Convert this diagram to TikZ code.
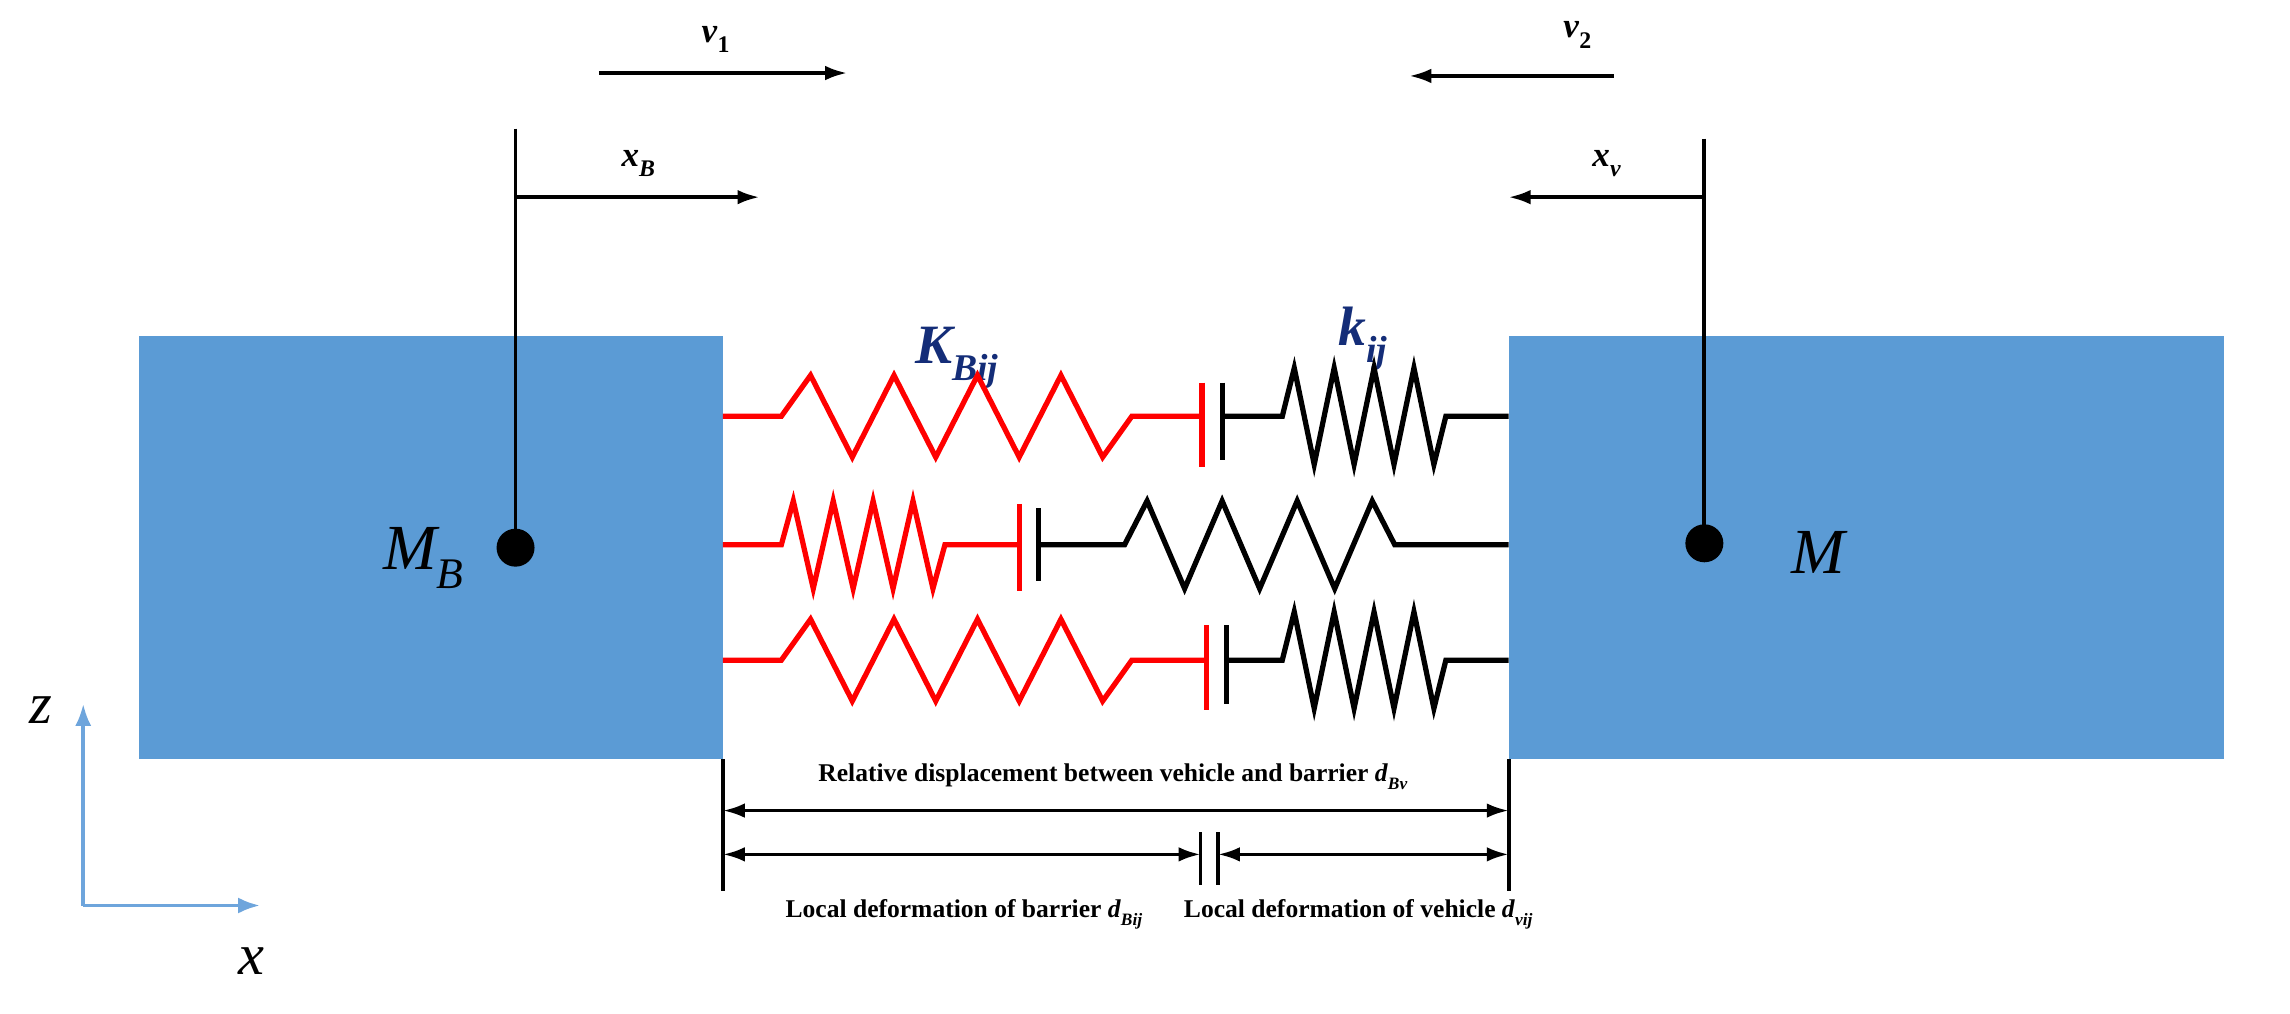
\documentclass[tikz,border=0pt]{standalone}
\usepackage{graphicx}
\usepackage{fontspec}
\setmainfont{Liberation Serif}
\usetikzlibrary{arrows.meta}
\definecolor{boxblue}{RGB}{91,155,213}
\definecolor{lblue}{RGB}{110,165,220}
\definecolor{dblue}{RGB}{20,45,120}
\newcommand\mysub[1]{\raisebox{-0.3em}{\scalebox{0.68}{#1}}}
\begin{document}
\begin{tikzpicture}[x=1pt,y=-1pt,
  ln/.style={line width=2.6pt,black},
  arr/.style={line width=2.4pt,-{Latex[length=15pt,width=10pt]}},
  darr/.style={line width=2.4pt,{Latex[length=15pt,width=10pt]}-{Latex[length=15pt,width=10pt]}},
  rs/.style={line width=3.6pt,red,line join=miter},
  bs/.style={line width=3.6pt,black,line join=miter},
  lab/.style={font=\bfseries\fontsize{17.5}{20}\selectfont},
  big/.style={font=\itshape\fontsize{44}{48}\selectfont}]
\useasboundingbox (0,0) rectangle (1568,694);
% boxes
\fill[boxblue] (95,230) rectangle (495,520);
\fill[boxblue] (1033,230) rectangle (1523,520);
\node[big] (MB) at (290,382) {M\mysub{B}};
\node[big] (M) at (1245,378) {M};
% reference lines
\coordinate (lt) at (353,88); \coordinate (la) at (353,135); \coordinate (le) at (520,135);
\draw[ln] (lt) -- (353,375);
\fill (353,375) circle (13);
\draw[arr] (la) -- (le);
\node[font=\bfseries\itshape\fontsize{24}{26}\selectfont] (xB) at (437,112) {x\mysub{B}};
\coordinate (v1a) at (410,50); \coordinate (v1b) at (580,50);
\draw[arr] (v1a) -- (v1b);
\node[font=\bfseries\fontsize{24}{26}\selectfont] (v1) at (490,27) {\textit{v}\mysub{1}};
\coordinate (rt) at (1167,95); \coordinate (ra) at (1167,135); \coordinate (re) at (1033,135);
\draw[ln] (rt) -- (1167,372);
\fill (1167,372) circle (13);
\draw[arr] (ra) -- (re);
\node[font=\bfseries\itshape\fontsize{24}{26}\selectfont] (xv) at (1100,112) {x\mysub{v}};
\coordinate (v2a) at (1105,52); \coordinate (v2b) at (965,52);
\draw[arr] (v2a) -- (v2b);
\node[font=\bfseries\fontsize{24}{26}\selectfont] (v2) at (1080,24) {\textit{v}\mysub{2}};
% spring labels
\node[dblue,font=\bfseries\itshape\fontsize{38}{40}\selectfont] (KB) at (655,245) {K\mysub{Bij}};
\node[dblue,font=\bfseries\itshape\fontsize{38}{40}\selectfont] (kij) at (933,232) {k\mysub{ij}};
% row 1
\draw[rs] (495,285) -- (535,285) \foreach \i in {1,...,8}{ -- ({535+(\i-0.3)*240/8.4},{285-28*(1-2*mod(\i+1,2))}) } -- (775,285) -- (823,285);
\draw[rs] (823,262) -- (823,320);
\draw[ln,line width=3.6pt] (837,262) -- (837,315);
\draw[bs] (837,285) -- (878,285) \foreach \i in {1,...,8}{ -- ({878+(\i-0.4)*112/8.2},{285-33*(1-2*mod(\i+1,2))}) } -- (990,285) -- (1033,285);
% row 2
\draw[rs] (495,373) -- (535,373) \foreach \i in {1,...,8}{ -- ({535+(\i-0.4)*112/8.2},{373-30*(1-2*mod(\i+1,2))}) } -- (647,373) -- (698,373);
\draw[rs] (698,345) -- (698,405);
\draw[ln,line width=3.6pt] (711,348) -- (711,398);
\draw[bs] (711,373) -- (770,373) \foreach \i in {1,...,7}{ -- ({770+(\i-0.4)*185/7.2},{373-30*(1-2*mod(\i+1,2))}) } -- (955,373) -- (1033,373);
% row 3
\draw[rs] (495,452) -- (535,452) \foreach \i in {1,...,8}{ -- ({535+(\i-0.3)*240/8.4},{452-28*(1-2*mod(\i+1,2))}) } -- (775,452) -- (826,452);
\draw[rs] (826,428) -- (826,486);
\draw[ln,line width=3.6pt] (840,428) -- (840,482);
\draw[bs] (840,452) -- (878,452) \foreach \i in {1,...,8}{ -- ({878+(\i-0.4)*112/8.2},{452-33*(1-2*mod(\i+1,2))}) } -- (990,452) -- (1033,452);
% axes
\coordinate (O) at (57,620);
\draw[lblue,line width=2.4pt,-{Latex[length=15pt,width=11pt]}] (O) -- (57,482);
\draw[lblue,line width=2.4pt,-{Latex[length=15pt,width=11pt]}] (O) -- (178,620);
\node[font=\itshape\fontsize{40}{42}\selectfont] (z) at (28,486) {z};
\node[font=\itshape\fontsize{40}{42}\selectfont] (x) at (172,658) {x};
% dimensions
\coordinate (d1) at (495,520); \coordinate (d1b) at (495,610);
\coordinate (d2) at (1033,520); \coordinate (d2b) at (1033,610);
\draw[ln] (d1) -- (d1b);
\draw[ln] (d2) -- (d2b);
\coordinate (a1) at (495,555); \coordinate (a2) at (1033,555);
\draw[darr] (a1) -- (a2);
\coordinate (m1) at (822,570); \coordinate (m1b) at (822,606);
\coordinate (m2) at (834,570); \coordinate (m2b) at (834,606);
\draw[ln] (m1) -- (m1b);
\draw[ln] (m2) -- (m2b);
\coordinate (b1) at (495,585); \coordinate (b2) at (822,585);
\coordinate (c1) at (834,585); \coordinate (c2) at (1033,585);
\draw[darr] (b1) -- (b2);
\draw[darr] (c1) -- (c2);
\node[lab] (t1) at (762,532) {Relative displacement between vehicle and barrier \textit{d}\mysub{\textit{Bv}}};
\node[lab] (t2) at (660,626) {Local deformation of barrier \textit{d}\mysub{\textit{Bij}}};
\node[lab] (t3) at (930,626) {Local deformation of vehicle \textit{d}\mysub{\textit{vij}}};
\end{tikzpicture}
\end{document}
